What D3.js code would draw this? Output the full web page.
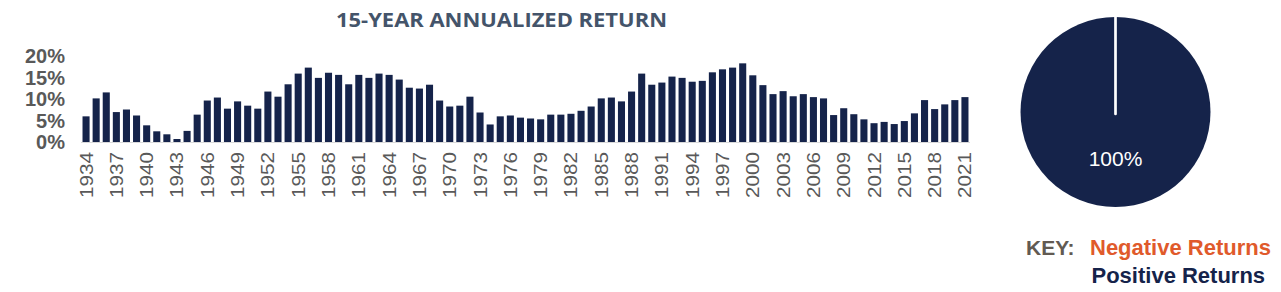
<!DOCTYPE html>
<html>
<head>
<meta charset="utf-8">
<script src="https://cdn.jsdelivr.net/npm/d3@7"></script>
<style>
  body { margin: 0; background: #fff; }
  svg { display: block; }
</style>
</head>
<body>
<script>
// 15-year annualized return, 1934..2021 (percent)
const years = d3.range(1934, 2022);
const returns = [
  6.0, 10.2, 11.6, 7.0, 7.6, 6.2, 3.9, 2.5, 1.8, 0.7,
  2.6, 6.4, 9.7, 10.4, 7.8, 9.5, 8.5, 7.8, 11.8, 10.6,
  13.5, 16.0, 17.4, 15.0, 16.2, 15.7, 13.5, 15.7, 15.0, 16.0,
  15.7, 14.6, 12.7, 12.5, 13.4, 9.7, 8.3, 8.5, 10.6, 6.9,
  4.1, 6.0, 6.2, 5.7, 5.5, 5.3, 6.4, 6.4, 6.6, 7.3,
  8.3, 10.2, 10.4, 9.5, 11.8, 16.0, 13.4, 13.9, 15.3, 15.0,
  14.1, 14.3, 16.3, 17.0, 17.4, 18.4, 15.6, 13.3, 11.2, 11.9,
  10.7, 11.2, 10.5, 10.2, 6.3, 7.9, 6.5, 5.3, 4.4, 4.7,
  4.2, 4.9, 6.7, 9.8, 7.7, 8.8, 9.8, 10.5
];
const yTicks = [0, 5, 10, 15, 20];
const tickYears = years.filter((y) => (y - 1934) % 3 === 0);

// pie: share of periods with negative vs positive return
const pieLabels = ["Negative Returns", "Positive Returns"];
const pieValues = [returns.filter((v) => v < 0).length, returns.filter((v) => v >= 0).length];

const navy = "#15234a";
const gray = "#595959";

const w = 1281;
const h = 292;

const svg = d3.select("body")
  .append("svg")
  .attr("width", w)
  .attr("height", h);

// Title
svg.append("text")
  .attr("x", 336)
  .attr("y", 27)
  .attr("textLength", 331)
  .attr("lengthAdjust", "spacingAndGlyphs")
  .style("font-family", "'Open Sans', sans-serif")
  .style("font-weight", "bold")
  .style("font-size", "20px")
  .style("fill", "#44546a")
  .text("15-YEAR ANNUALIZED RETURN");

// Scales
const x = d3.scaleBand()
  .domain(years)
  .range([81, 970])
  .paddingInner(0.3)
  .paddingOuter(0.15);

const y = d3.scaleLinear()
  .domain([0, 20])
  .range([142, 56.5]);

// baseline
svg.append("line")
  .attr("x1", 81)
  .attr("x2", 970)
  .attr("y1", y(0) + 0.5)
  .attr("y2", y(0) + 0.5)
  .style("stroke", "#d9d9d9")
  .style("stroke-width", 1);

// Bars
svg.selectAll(".bar")
  .data(returns)
  .enter()
  .append("rect")
  .attr("class", "bar")
  .attr("x", (d, i) => x(years[i]))
  .attr("width", x.bandwidth())
  .attr("y", (d) => y(d))
  .attr("height", (d) => y(0) - y(d))
  .style("fill", navy);

// Y axis labels
const yAxis = svg.append("g")
  .attr("transform", "translate(65,0)")
  .call(d3.axisLeft(y).tickValues(yTicks).tickFormat((d) => d + "%").tickSize(0).tickPadding(0));
yAxis.select(".domain").remove();
yAxis.selectAll("text")
  .style("font-family", "Arial, 'Liberation Sans', sans-serif")
  .style("font-weight", "bold")
  .style("font-size", "20px")
  .style("fill", gray);

// X axis labels (every third year, rotated, slightly stretched like the original)
const xAxis = svg.append("g")
  .attr("transform", `translate(0,${y(0)})`)
  .call(d3.axisBottom(x).tickValues(tickYears).tickSize(0).tickPadding(0));
xAxis.select(".domain").remove();
xAxis.selectAll("text")
  .attr("transform", "rotate(-90)")
  .attr("x", -10)
  .attr("y", 0)
  .attr("dy", "0.35em")
  .attr("textLength", 46)
  .attr("lengthAdjust", "spacingAndGlyphs")
  .style("text-anchor", "end")
  .style("font-family", "Arial, 'Liberation Sans', sans-serif")
  .style("font-size", "18.5px")
  .style("fill", gray);

// Pie
const pieG = svg.append("g")
  .attr("transform", "translate(1115.5,112)");

const pie = d3.pie().sort(null);
const arc = d3.arc().innerRadius(0).outerRadius(95);
const pieColor = d3.scaleOrdinal().domain(pieLabels).range(["#e05a2b", navy]);

pieG.selectAll("path")
  .data(pie(pieValues))
  .enter()
  .append("path")
  .attr("d", arc)
  .style("fill", (d, i) => pieColor(pieLabels[i]))
  .style("stroke", "none");

// white separator at the start of the pie
pieG.append("line")
  .attr("x1", 0)
  .attr("x2", 0)
  .attr("y1", -96)
  .attr("y2", 2)
  .style("stroke", "#fff")
  .style("stroke-width", 2.7)
  .style("stroke-linecap", "round");

const total = d3.sum(pieValues);
pieG.append("text")
  .attr("x", 0)
  .attr("y", 54)
  .attr("text-anchor", "middle")
  .style("font-family", "Arial, 'Liberation Sans', sans-serif")
  .style("font-size", "21px")
  .style("fill", "#fff")
  .text(Math.round(pieValues[1] / total * 100) + "%");

// Key
const keyFont = "Arial, 'Liberation Sans', sans-serif";
svg.append("text")
  .attr("x", 1026)
  .attr("y", 255)
  .style("font-family", keyFont)
  .style("font-weight", "bold")
  .style("font-size", "21px")
  .style("fill", "#625a52")
  .text("KEY:");

svg.selectAll(".key")
  .data(pieLabels)
  .enter()
  .append("text")
  .attr("class", "key")
  .attr("x", (d, i) => 1090 + i * 1.5)
  .attr("y", (d, i) => 255 + i * 27.5)
  .style("font-family", keyFont)
  .style("font-weight", "bold")
  .style("font-size", "22px")
  .style("fill", (d) => pieColor(d))
  .text((d) => d);
</script>
</body>
</html>
